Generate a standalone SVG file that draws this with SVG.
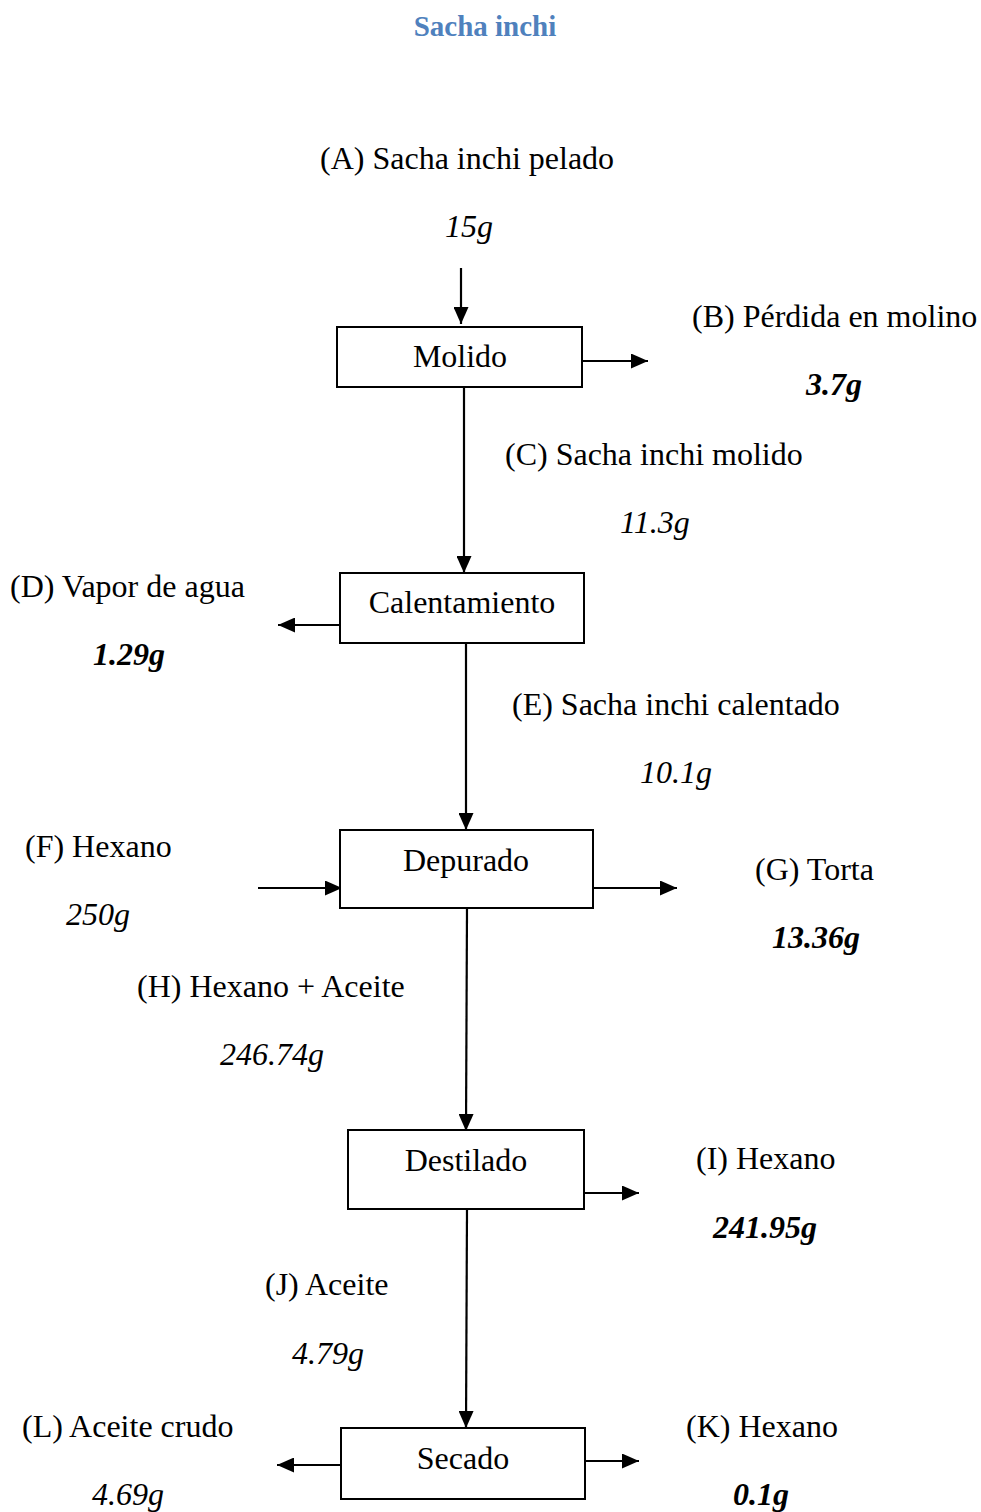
<svg xmlns="http://www.w3.org/2000/svg" width="981" height="1512" viewBox="0 0 981 1512">
<style>
text{font-family:"Liberation Serif","Times New Roman",serif;font-size:32px;fill:#000}
.title{font-weight:bold;font-size:29px;fill:#4F81BD}
.it{font-style:italic}
.bi{font-style:italic;font-weight:bold}
.box{fill:#fff;stroke:#000;stroke-width:2}
.lbl{text-anchor:middle}
#connectors line{stroke:#000;stroke-width:2.2;marker-end:url(#ah)}
</style>
<defs>
<marker id="ah" markerUnits="userSpaceOnUse" markerWidth="17" markerHeight="15" refX="17" refY="7.5" orient="auto">
<path d="M0,0 L17,7.5 L0,15 z" fill="#000"/>
</marker>
</defs>
<rect width="981" height="1512" fill="#fff"/>
<text class="title" x="485" y="36" text-anchor="middle">Sacha inchi</text>

<g id="connectors">
<line x1="461" y1="268" x2="461" y2="324"/>
<line x1="583" y1="361" x2="648" y2="361"/>
<line x1="464" y1="388" x2="464" y2="573"/>
<line x1="340" y1="625" x2="278" y2="625"/>
<line x1="466" y1="644" x2="466" y2="830"/>
<line x1="258" y1="888" x2="342" y2="888"/>
<line x1="593" y1="888" x2="677" y2="888"/>
<line x1="467" y1="909" x2="466" y2="1131"/>
<line x1="585" y1="1193" x2="639" y2="1193"/>
<line x1="467" y1="1210" x2="466" y2="1428"/>
<line x1="341" y1="1465" x2="277" y2="1465"/>
<line x1="586" y1="1461" x2="639" y2="1461"/>
</g>

<g id="molido"><rect class="box" x="337" y="327" width="245" height="60"/><text class="lbl" x="460" y="367">Molido</text></g>
<g id="calentamiento"><rect class="box" x="340" y="573" width="244" height="70"/><text class="lbl" x="462" y="613">Calentamiento</text></g>
<g id="depurado"><rect class="box" x="340" y="830" width="253" height="78"/><text class="lbl" x="466" y="871">Depurado</text></g>
<g id="destilado"><rect class="box" x="348" y="1130" width="236" height="79"/><text class="lbl" x="466" y="1171">Destilado</text></g>
<g id="secado"><rect class="box" x="341" y="1428" width="244" height="71"/><text class="lbl" x="463" y="1469">Secado</text></g>

<g id="stream-A"><text x="320" y="169">(A) Sacha inchi pelado</text><text class="it" x="445" y="237">15g</text></g>
<g id="stream-B"><text x="692" y="327">(B) Pérdida en molino</text><text class="bi" x="806" y="395">3.7g</text></g>
<g id="stream-C"><text x="505" y="465">(C) Sacha inchi molido</text><text class="it" x="620" y="533">11.3g</text></g>
<g id="stream-D"><text x="10" y="597">(D) Vapor de agua</text><text class="bi" x="93" y="665">1.29g</text></g>
<g id="stream-E"><text x="512" y="715">(E) Sacha inchi calentado</text><text class="it" x="640" y="783">10.1g</text></g>
<g id="stream-F"><text x="25" y="857">(F) Hexano</text><text class="it" x="66" y="925">250g</text></g>
<g id="stream-G"><text x="755" y="880">(G) Torta</text><text class="bi" x="772" y="948">13.36g</text></g>
<g id="stream-H"><text x="137" y="997">(H) Hexano + Aceite</text><text class="it" x="220" y="1065">246.74g</text></g>
<g id="stream-I"><text x="696" y="1169">(I) Hexano</text><text class="bi" x="713" y="1238">241.95g</text></g>
<g id="stream-J"><text x="265" y="1295">(J) Aceite</text><text class="it" x="292" y="1364">4.79g</text></g>
<g id="stream-L"><text x="22" y="1437">(L) Aceite crudo</text><text class="it" x="92" y="1505">4.69g</text></g>
<g id="stream-K"><text x="686" y="1437">(K) Hexano</text><text class="bi" x="733" y="1505">0.1g</text></g>
</svg>
